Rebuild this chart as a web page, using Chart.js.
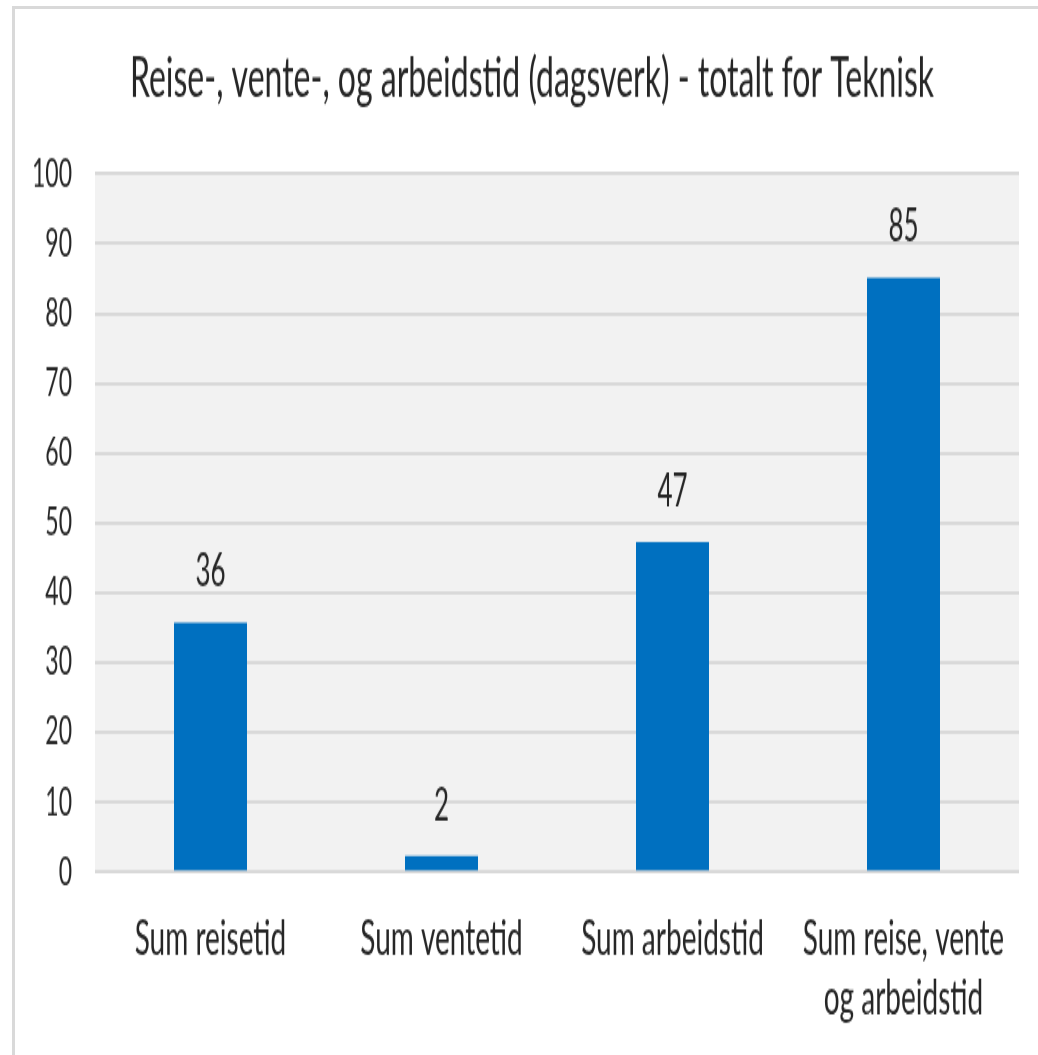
<!DOCTYPE html>
<html lang="no">
<head>
  <meta charset="UTF-8" />
  <title>Reise-, vente-, og arbeidstid</title>
  <script src="https://cdn.jsdelivr.net/npm/chart.js"></script>
  <style>
    html, body {
      margin: 0;
      padding: 0;
      background: #ffffff;
      overflow: hidden;
    }
    #frame {
      position: absolute;
      left: 12px;
      top: 6px;
      width: 1100px;
      height: 1100px;
      border-left: 3px solid #d9d9d9;
      border-top: 3px solid #d9d9d9;
      z-index: 0;
    }
    /* the original picture is stretched tall, so the chart is drawn flat and scaled up */
    canvas#barChart {
      position: absolute;
      left: 0;
      top: 0;
      width: 1038px;
      height: 621px;
      transform: scaleY(1.699);
      transform-origin: 0 0;
      z-index: 1;
    }
  </style>
</head>
<body>
  <div id="frame"></div>
  <canvas id="barChart" width="1038" height="621"></canvas>
  <script>
    const categories = [
      "Sum reisetid",
      "Sum ventetid",
      "Sum arbeidstid",
      ["Sum reise, vente", "og arbeidstid"]
    ];
    const dagsverk = [35.7, 2.3, 47.3, 85.1];
    const yTicks = [0, 10, 20, 30, 40, 50, 60, 70, 80, 90, 100];

    const fontFamily = "Lato, 'Liberation Sans', sans-serif";
    const textColor = "#262626";

    // grey plot area like the Excel original
    const plotBackground = {
      id: "plotBackground",
      afterLayout(chart) {
        // let the y labels use the space left of the axis box (they are clipped to it)
        chart.scales.y.left = 0;
      },
      beforeDraw(chart) {
        const { ctx, chartArea } = chart;
        ctx.save();
        ctx.fillStyle = "#f2f2f2";
        ctx.fillRect(chartArea.left, chartArea.top, chartArea.right - chartArea.left, chartArea.bottom - chartArea.top);
        ctx.restore();
      }
    };

    // rounded value above each bar
    const valueLabels = {
      id: "valueLabels",
      afterDatasetsDraw(chart) {
        const { ctx } = chart;
        const meta = chart.getDatasetMeta(0);
        ctx.save();
        ctx.font = "26px " + fontFamily;
        ctx.fillStyle = textColor;
        ctx.textAlign = "center";
        ctx.textBaseline = "middle";
        meta.data.forEach((bar, i) => {
          ctx.fillText(String(Math.round(dagsverk[i])), bar.x, bar.y - 29.5);
        });
        ctx.restore();
      }
    };

    const ctx = document.getElementById("barChart").getContext("2d");
    new Chart(ctx, {
      type: "bar",
      data: {
        labels: categories,
        datasets: [{
          label: "Dagsverk",
          data: dagsverk,
          backgroundColor: "#0070c0",
          borderWidth: 0,
          barPercentage: 0.316,
          categoryPercentage: 1
        }]
      },
      options: {
        responsive: false,
        animation: false,
        layout: { padding: { left: 45, right: 19, top: 0, bottom: 0 } },
        plugins: {
          legend: { display: false },
          tooltip: { enabled: false },
          title: {
            display: true,
            text: "Reise-, vente-, og arbeidstid (dagsverk) - totalt for Teknisk",
            color: textColor,
            font: { family: fontFamily, size: 32, weight: "normal", lineHeight: 1.2 },
            padding: { top: 27.8, bottom: 36.2 }
          }
        },
        scales: {
          x: {
            grid: { display: false, drawTicks: false },
            border: { display: false },
            ticks: {
              color: textColor,
              font: { family: fontFamily, size: 28, lineHeight: 1.26 },
              padding: 22,
              maxRotation: 0,
              autoSkip: false
            },
            afterFit(scale) {
              scale.height = 107.8;
              scale.paddingLeft = 0;
              scale.paddingRight = 0;
            }
          },
          y: {
            min: 0,
            max: 100,
            afterBuildTicks(scale) {
              scale.ticks = yTicks.map(v => ({ value: v }));
            },
            grid: { color: "#d9d9d9", lineWidth: 2, drawTicks: false },
            border: { display: false },
            ticks: {
              color: textColor,
              font: { family: fontFamily, size: 23 },
              padding: 23
            },
            afterFit(scale) {
              scale.width = 50;
            }
          }
        }
      },
      plugins: [plotBackground, valueLabels]
    });
  </script>
</body>
</html>
